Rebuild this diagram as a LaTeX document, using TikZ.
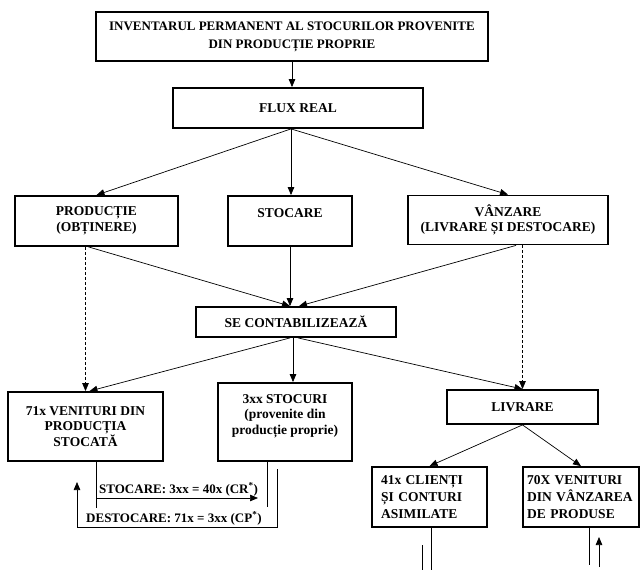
\documentclass[tikz,border=0pt]{standalone}
\usepackage{fontspec}
\setmainfont{Liberation Serif}
\usetikzlibrary{arrows.meta,calc}
\hyphenpenalty=10000
\begin{document}
\begin{tikzpicture}[x=1pt,y=-1pt,
  box/.style={draw, line width=1.8pt, inner sep=0pt, align=center,
    font=\bfseries\fontsize{13.5}{15.5}\selectfont},
  leftbox/.style={box, align=left, font=\bfseries\fontsize{13.5}{17}\selectfont},
  conn/.style={line width=0.7pt},
  arr/.style={conn, -{Triangle[length=8pt,width=6.5pt]}},
  dashconn/.style={dash pattern=on 3pt off 2pt},
  lbl/.style={font=\bfseries\fontsize{13}{15}\selectfont, inner sep=1pt}
]
\useasboundingbox (0,0) rectangle (640,570);

% boxes
\node[box, minimum width=392pt, minimum height=49pt,
  font=\bfseries\fontsize{13}{18}\selectfont] (inv) at (292,36.5)
  {INVENTARUL PERMANENT AL STOCURILOR PROVENITE\\DIN PRODUCȚIE PROPRIE};
\node[box, minimum width=250pt, minimum height=40pt] (flux) at (298,108) {FLUX REAL};
\node[box, minimum width=163pt, minimum height=50pt] (prod) at (96.5,221) {PRODUCȚIE\\(OBȚINERE)};
\node[box, minimum width=124pt, minimum height=50pt] (stoc) at (290,221) {STOCARE\\\mbox{}};
\node[box, minimum width=200pt, minimum height=49pt] (vanz) at (508,220) {VÂNZARE\\(LIVRARE ȘI DESTOCARE)};
\node[box, minimum width=200pt, minimum height=30pt] (se) at (296,322) {SE CONTABILIZEAZĂ};
\node[box, minimum width=155pt, minimum height=69pt] (v71) at (85.5,426.5) {71x VENITURI DIN\\PRODUCȚIA\\STOCATĂ};
\node[box, minimum width=134pt, minimum height=78pt] (s3) at (285,422) {3xx STOCURI\\(provenite din\\producție proprie)\\\mbox{}};
\node[box, minimum width=151pt, minimum height=34pt] (livr) at (522.5,407) {LIVRARE};
\node[leftbox, minimum width=115pt, minimum height=60pt, text width=97pt] (cl) at (429.5,497) {41x CLIENȚI\\ȘI CONTURI\\ASIMILATE};
\node[leftbox, minimum width=116pt, minimum height=60pt, text width=108pt] (vv) at (581,497) {70X VENITURI\\DIN VÂNZAREA\\DE PRODUSE};

% top flow
\draw[arr] (inv.south) -- (inv.south |- flux.north);
\coordinate (fo) at ($(flux.south)+(-7,0)$);
\draw[arr] (fo) -- (prod.north);
\draw[arr] (fo) -- (fo |- stoc.north);
\draw[arr] (fo) -- (vanz.north);

% into the accounting box
\draw[arr] ($(prod.south)+(-8,0)$) -- ($(se.north)+(-6,0)$);
\draw[arr] (stoc.south) -- (stoc.south |- se.north);
\draw[arr] ($(vanz.south)+(8,0)$) -- ($(se.north)+(3,0)$);

% dashed direct links
\draw[arr, dashconn] (prod.south -| v71.north) -- (v71.north);
\draw[arr, dashconn] (vanz.south -| livr.north) -- (livr.north);

% out of the accounting box
\draw[arr] ($(se.south)+(-6,0)$) -- ($(v71.north)+(4,0)$);
\draw[arr] ($(se.south)+(-3,0)$) -- ($(se.south |- s3.north)+(-3,0)$);
\draw[arr] ($(se.south)+(2,0)$) -- (livr.north);

% delivery
\draw[arr] (livr.south) -- (cl.north);
\draw[arr] (livr.south) -- (vv.north);

% stocking / destocking entries
\coordinate (sa) at (96,508);
\draw[conn] (v71.south -| sa) -- (sa);
\coordinate (sb) at (96,498);
\coordinate (sbe) at (258,498);
\draw[arr] (sb) -- (sbe);
\node[lbl, anchor=south west] (stxt) at (98,497) {STOCARE: 3xx = 40x (CR\textsuperscript{*})};
\coordinate (sc) at (267,507);
\draw[conn] (s3.south -| sc) -- (sc);
\coordinate (da) at (277,469);
\coordinate (dc) at (277,527);
\coordinate (dd) at (77,527);
\coordinate (db) at (77,482);
\draw[arr] (da) -- (dc) -- (dd) -- (db);
\node[lbl, anchor=south west] (dtxt) at (85,526) {DESTOCARE: 71x = 3xx (CP\textsuperscript{*})};

% lines leaving the lower boxes
\coordinate (c1a) at (422,545);
\coordinate (c1b) at (422,570);
\draw[conn] (c1a) -- (c1b);
\coordinate (c2) at (431,570);
\draw[conn] (cl.south -| c2) -- (c2);
\coordinate (v1) at (589,565);
\draw[conn] (vv.south -| v1) -- (v1);
\coordinate (v2) at (599,567);
\coordinate (v2t) at (599,537);
\draw[arr] (v2) -- (v2t);
\end{tikzpicture}
\end{document}
